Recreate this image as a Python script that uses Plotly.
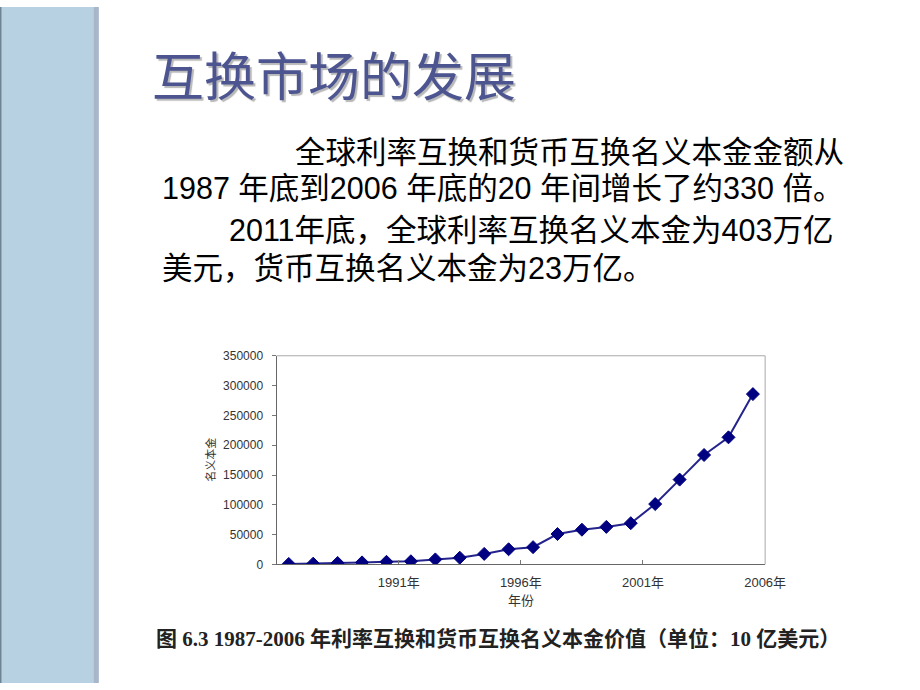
import plotly.graph_objects as go

W, H = 920, 690

years = list(range(1987, 2007))
notional = [865, 1329, 2474, 3450, 4449, 5346, 8475, 11303, 17713, 25453,
            29035, 50997, 58265, 63009, 69207, 101318, 142307, 183583, 213194, 285728]
tick_positions = [1991.5, 1996.5, 2001.5, 2006.5]
tick_labels = ["1991年", "1996年", "2001年", "2006年"]
y_ticks = [0, 50000, 100000, 150000, 200000, 250000, 300000, 350000]

title_text = "互换市场的发展"
para_lines = [
    "全球利率互换和货币互换名义本金金额从",
    "1987 年底到2006 年底的20 年间增长了约330 倍。",
    "2011年底，全球利率互换名义本金为403万亿",
    "美元，货币互换名义本金为23万亿。",
]
caption = "图 6.3 1987-2006 年利率互换和货币互换名义本金价值（单位：10 亿美元）"
y_title = "名义本金"
x_title = "年份"

def px(x):
    return x / W

def py(y):
    return 1 - y / H

SANS = "Liberation Sans, Arial, Noto Sans CJK SC"

fig = go.Figure()
fig.add_trace(go.Scatter(
    x=years, y=notional, mode="lines+markers",
    line=dict(color="#24248c", width=2),
    marker=dict(symbol="diamond", size=10, color="#000080",
                line=dict(color="#000080", width=1)),
    showlegend=False, hoverinfo="skip",
))

x0, x1, y0, y1 = 283, 783, 356, 569
fig.update_layout(
    width=W, height=H,
    margin=dict(l=0, r=0, t=0, b=0),
    paper_bgcolor="white", plot_bgcolor="white",
    xaxis=dict(domain=[px(x0), px(x1)], range=[1986.5, 2006.5],
               tickvals=tick_positions, ticktext=tick_labels,
               ticks="inside", ticklen=4, tickcolor="#777",
               showgrid=False, zeroline=False, showline=True,
               linecolor="#666", linewidth=1, ticklabelstandoff=6,
               tickfont=dict(family=SANS, size=13, color="#333")),
    yaxis=dict(domain=[py(y1), py(y0)], range=[0, 350000],
               tickvals=y_ticks, ticktext=[str(v) for v in y_ticks],
               ticks="outside", ticklen=4, tickcolor="#777",
               showgrid=False, zeroline=False, showline=True,
               linecolor="#666", linewidth=1, ticklabelstandoff=6,
               tickfont=dict(family=SANS, size=12, color="#333")),
)

shapes = [
    # left decorative stripe
    dict(type="rect", xref="paper", yref="paper", x0=0, x1=px(101), y0=0, y1=1,
         fillcolor="#b8d1e2", line=dict(width=0), layer="below"),
    dict(type="rect", xref="paper", yref="paper", x0=px(96), x1=px(101), y0=0, y1=1,
         fillcolor="#a9b6c9", line=dict(width=0), layer="below"),
    dict(type="rect", xref="paper", yref="paper", x0=0, x1=px(1.5), y0=0, y1=1,
         fillcolor="#6d8494", line=dict(width=0), layer="below"),
    # light top/right frame of plot
    dict(type="line", xref="x domain", yref="y domain", x0=0, x1=1, y0=1, y1=1,
         line=dict(color="#aaaaaa", width=1)),
    dict(type="line", xref="x domain", yref="y domain", x0=1, x1=1, y0=0, y1=1,
         line=dict(color="#aaaaaa", width=1)),
]
fig.update_layout(shapes=shapes)

ann = []
ann.append(dict(x=px(342), y=py(68), xref="paper", yref="paper", text=title_text,
                showarrow=False, xanchor="center", yanchor="middle",
                font=dict(family="Noto Sans CJK SC", size=52, color="#4d5591",
                          shadow="2px 2px 1px #b8b8b8")))
para_pos = [(300, 148), (164, 185), (232, 228), (164, 266)]
for (lx, ly), t in zip(para_pos, para_lines):
    ann.append(dict(x=px(lx), y=py(ly), xref="paper", yref="paper", text=t,
                    showarrow=False, xanchor="left", yanchor="middle",
                    font=dict(family=SANS, size=30.5, color="#000")))
ann.append(dict(x=px(215), y=py(462), xref="paper", yref="paper", text=y_title,
                showarrow=False, textangle=-90, xanchor="center", yanchor="middle",
                font=dict(family="Noto Sans CJK SC", size=11, color="#333")))
ann.append(dict(x=px(533), y=py(605), xref="paper", yref="paper", text=x_title,
                showarrow=False, xanchor="center", yanchor="middle",
                font=dict(family="Noto Sans CJK SC", size=13, color="#333")))
ann.append(dict(x=px(510), y=py(645), xref="paper", yref="paper", text="<b>" + caption + "</b>",
                showarrow=False, xanchor="center", yanchor="middle",
                font=dict(family="Liberation Serif, Noto Sans CJK SC", size=21, color="#222")))
fig.update_layout(annotations=ann)

fig.write_html("out.html",
               post_script="document.body.style.margin='0';document.body.style.overflow='hidden';")
